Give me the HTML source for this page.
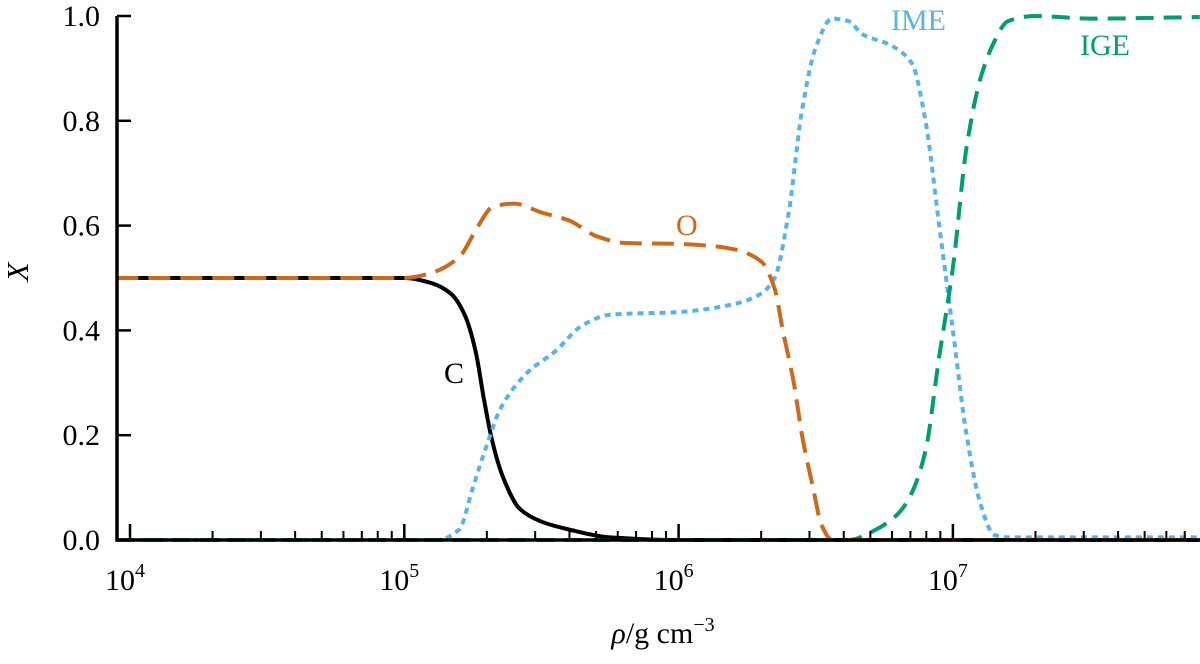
<!DOCTYPE html>
<html><head><meta charset="utf-8"><style>
body{margin:0;background:#fff}
svg text{font-family:"Liberation Serif",serif;fill:#000}
</style></head><body>
<svg id="chart" width="1200" height="659" xmlns="http://www.w3.org/2000/svg">
<g id="series"></g>
<g id="axes"></g>
<text x="0" y="0" font-size="31" font-style="italic" transform="translate(28,272) rotate(-90)" text-anchor="middle">X</text>
<text x="663" y="643" font-size="30" text-anchor="middle"><tspan font-style="italic">ρ</tspan>/g cm<tspan font-size="20" dy="-12">−3</tspan></text>
<text x="444" y="383" font-size="30">C</text>
<text x="676" y="235" font-size="30" style="fill:#cc6a1a">O</text>
<text x="891" y="30" font-size="30" style="fill:#56b4e9">IME</text>
<text x="1080" y="55" font-size="30" style="fill:#009e73">IGE</text>
</svg>
<script>
const yTicks=[0,0.2,0.4,0.6,0.8,1.0];
const yTickLabels=["0.0","0.2","0.4","0.6","0.8","1.0"];
const xDecades=[4,5,6,7];
const seriesC=[[3.95,0.5],[5.0,0.5],[5.1,0.49],[5.17,0.47],[5.22,0.43],[5.26,0.36],[5.29,0.27],[5.32,0.19],[5.36,0.12],[5.42,0.06],[5.5,0.035],[5.6,0.02],[5.75,0.005],[6.0,0],[7.9,0]];
const seriesO=[[3.95,0.5],[5.0,0.5],[5.1,0.51],[5.2,0.54],[5.27,0.6],[5.32,0.635],[5.4,0.642],[5.5,0.625],[5.6,0.61],[5.7,0.58],[5.8,0.567],[6.0,0.565],[6.1,0.562],[6.2,0.555],[6.3,0.532],[6.35,0.48],[6.38,0.4],[6.42,0.3],[6.45,0.2],[6.49,0.1],[6.52,0.03],[6.56,0.0],[7.9,0]];
const seriesIME=[[3.95,0],[5.12,0],[5.2,0.02],[5.25,0.1],[5.3,0.18],[5.35,0.25],[5.45,0.32],[5.55,0.36],[5.65,0.41],[5.75,0.43],[6.0,0.435],[6.2,0.45],[6.3,0.47],[6.35,0.5],[6.4,0.62],[6.45,0.82],[6.5,0.94],[6.56,0.995],[6.62,0.99],[6.67,0.965],[6.77,0.945],[6.85,0.91],[6.9,0.8],[6.95,0.6],[7.0,0.4],[7.05,0.2],[7.1,0.07],[7.15,0.01],[7.2,0.005],[7.9,0.005]];
const seriesIGE=[[3.95,0],[6.62,0],[6.72,0.02],[6.8,0.05],[6.85,0.09],[6.9,0.17],[6.95,0.35],[7.0,0.52],[7.05,0.75],[7.1,0.88],[7.15,0.95],[7.2,0.99],[7.3,1.0],[7.5,0.995],[7.9,0.998]];
const NS="http://www.w3.org/2000/svg";
const X0=130,DEC=274.3,Y0=540,YH=524;
const xs=l=>X0+(l-4)*DEC, ys=v=>Y0-v*YH;
const axes=document.getElementById('axes'),ser=document.getElementById('series');
function mk(tag,attrs,parent){const e=document.createElementNS(NS,tag);for(const k in attrs)e.setAttribute(k,attrs[k]);parent.appendChild(e);return e;}
let e;
e=mk('path',{d:`M117,${ys(1)} V${Y0} H1200`,stroke:'#000','stroke-width':3.5,fill:'none'},axes);


yTicks.forEach((t,i)=>{
 e=mk('line',{x1:117,x2:131,y1:ys(t),y2:ys(t),stroke:'#000','stroke-width':2.5},axes);
 
 
 e=mk('text',{x:100,y:ys(t)+10,'font-size':30,'text-anchor':'end'},axes);e.textContent=yTickLabels[i];
 
 
});
xDecades.forEach(d=>{
 e=mk('line',{x1:xs(d),x2:xs(d),y1:Y0,y2:Y0-16,stroke:'#000','stroke-width':2.5},axes);
 
 
 const t=mk('text',{x:xs(d)-5,y:590,'font-size':30,'text-anchor':'middle'},axes);
 t.innerHTML='10<tspan font-size="20" dy="-13">'+d+'</tspan>';
 
 
 for(let m=2;m<=9;m++){const x=xs(d+Math.log10(m));if(x>1198)break;
  e=mk('line',{x1:x,x2:x,y1:Y0,y2:Y0-9,stroke:'#000','stroke-width':2},axes);
  
  }
});
function line(data,color,dash,name){
 const P=data.map(p=>[xs(p[0]),ys(p[1])]);
 const n=P.length, dl=[], m=[];
 for(let i=0;i<n-1;i++) dl.push((P[i+1][1]-P[i][1])/(P[i+1][0]-P[i][0]));
 for(let i=0;i<n;i++){
  if(i===0) m.push(dl[0]); else if(i===n-1) m.push(dl[n-2]);
  else if(dl[i-1]*dl[i]<=0) m.push(0);
  else { const h0=P[i][0]-P[i-1][0], h1=P[i+1][0]-P[i][0];
   const w1=2*h1+h0, w2=h1+2*h0; m.push((w1+w2)/(w1/dl[i-1]+w2/dl[i])); }
 }
 let d='M'+P[0][0].toFixed(1)+','+P[0][1].toFixed(1);
 for(let i=0;i<n-1;i++){
  const h=(P[i+1][0]-P[i][0])/3;
  d+=` C${(P[i][0]+h).toFixed(1)},${(P[i][1]+m[i]*h).toFixed(1)} ${(P[i+1][0]-h).toFixed(1)},${(P[i+1][1]-m[i+1]*h).toFixed(1)} ${P[i+1][0].toFixed(1)},${P[i+1][1].toFixed(1)}`;
 }
 const p=mk('path',{d,stroke:color,'stroke-width':4,fill:'none','stroke-dasharray':dash,'stroke-linejoin':'round'},ser);
 
 
}
line(seriesC,'#000','none','line-c');
line(seriesIME,'#56b4e9','6 5','line-ime');
line(seriesIGE,'#009e73','18 10','line-ige');
line(seriesO,'#cc6a1a','22 10','line-o');
</script>
</body></html>
